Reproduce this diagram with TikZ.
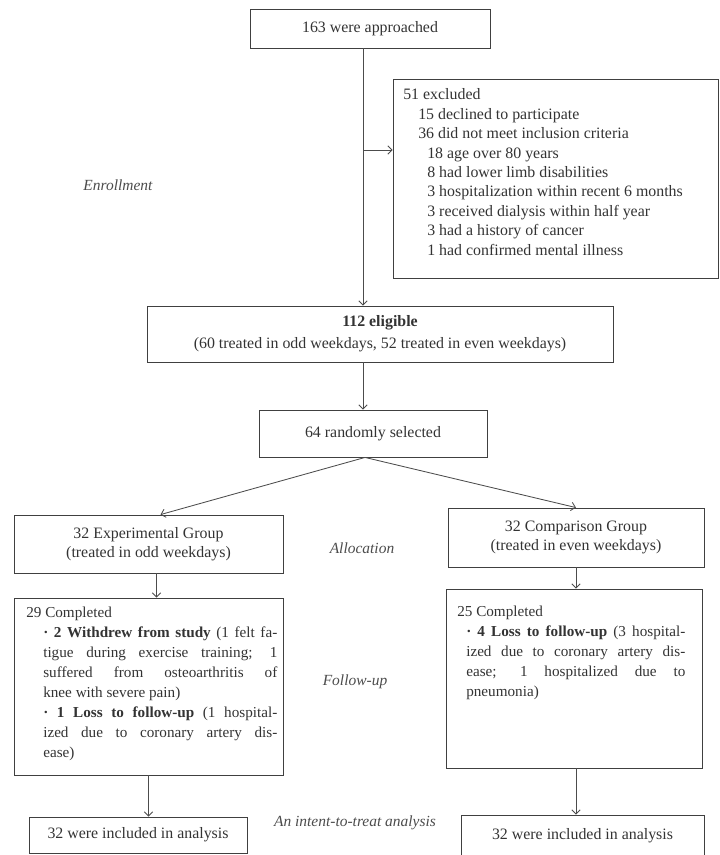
\documentclass[tikz,border=0pt]{standalone}
\usepackage{fontspec}
\setmainfont{Liberation Serif}
\usetikzlibrary{arrows.meta}
\newcommand{\jline}[2]{\makebox[#1][s]{#2}}
\begin{document}
\begin{tikzpicture}[x=0.025cm,y=-0.025cm,
  every node/.style={text=black!80},
  box/.style={draw=black!75, line width=0.6pt, inner sep=0, align=center, font=\fontsize{11.3}{13.5}\selectfont},
  txt/.style={anchor=north west, inner sep=0, align=left, font=\fontsize{10.8}{14.2}\selectfont},
  stage/.style={font=\itshape\fontsize{11}{12}\selectfont, text=black!70},
  arr/.style={draw=black!70, line width=0.6pt, -{Straight Barb[length=3pt,width=6pt]}}]
  \useasboundingbox (0,0) rectangle (720,855);
  % enrollment
  \node[box, minimum width=6cm, minimum height=0.975cm] (appr) at (370,28.5) {163 were approached};
  \node[box, minimum width=8.125cm, minimum height=4.975cm] (excl) at (555.5,178.5) {};
  \node[txt, font=\fontsize{11.3}{13.8}\selectfont] (excltxt) at (403,88.5) {51 excluded\\
    \hspace*{0.375cm}15 declined to participate\\
    \hspace*{0.375cm}36 did not meet inclusion criteria\\
    \hspace*{0.6cm}18 age over 80 years\\
    \hspace*{0.6cm}8 had lower limb disabilities\\
    \hspace*{0.6cm}3 hospitalization within recent 6 months\\
    \hspace*{0.6cm}3 received dialysis within half year\\
    \hspace*{0.6cm}3 had a history of cancer\\
    \hspace*{0.6cm}1 had confirmed mental illness};
  \node[stage] (enrol) at (118,185) {Enrollment};
  \node[box, minimum width=11.65cm, minimum height=1.4cm] (elig) at (380,334)
    {\textbf{112 eligible}\\[2pt](60 treated in odd weekdays, 52 treated in even weekdays)};
  \node[box, minimum width=5.7cm, minimum height=1.175cm] (rand) at (373,433.5) {64 randomly selected};
  \coordinate (split) at (363,150);
  \draw[arr] (split |- appr.south) -- (split |- elig.north);
  \draw[arr] (split) -- (split -| excl.west);
  \draw[arr] (split |- elig.south) -- (split |- rand.north);
  % allocation
  \node[box, minimum width=6.725cm, minimum height=1.45cm] (expg) at (148.5,544)
    {32 Experimental Group\\(treated in odd weekdays)};
  \node[box, minimum width=6.4cm, minimum height=1.475cm] (compg) at (576,537.5)
    {32 Comparison Group\\(treated in even weekdays)};
  \node[stage] (alloc) at (362,548) {Allocation};
  \draw[arr] ([xshift=-0.2cm]rand.south) -- ([xshift=0.3cm]expg.north);
  \draw[arr] ([xshift=-0.2cm]rand.south) -- (compg.north);
  % follow-up
  \node[box, minimum width=6.725cm, minimum height=4.425cm] (done1) at (148.5,686.5) {};
  \node[box, minimum width=6.4cm, minimum height=4.475cm] (done2) at (574,678.5) {};
  \node[txt] (done1txt) at (26,607) {29 Completed\\
    \hspace*{0.425cm}\jline{5.85cm}{\textbf{· 2 Withdrew from study} (1 felt fa-}\\
    \hspace*{0.425cm}\jline{5.85cm}{tigue during exercise training; 1}\\
    \hspace*{0.425cm}\jline{5.85cm}{suffered from osteoarthritis of}\\
    \hspace*{0.425cm}knee with severe pain)\\
    \hspace*{0.425cm}\jline{5.85cm}{\textbf{· 1 Loss to follow-up} (1 hospital-}\\
    \hspace*{0.425cm}\jline{5.85cm}{ized due to coronary artery dis-}\\
    \hspace*{0.425cm}ease)};
  \node[txt] (done2txt) at (457,606) {25 Completed\\
    \hspace*{0.225cm}\jline{5.475cm}{\textbf{· 4 Loss to follow-up} (3 hospital-}\\
    \hspace*{0.225cm}\jline{5.475cm}{ized due to coronary artery dis-}\\
    \hspace*{0.225cm}\jline{5.475cm}{ease; 1 hospitalized due to}\\
    \hspace*{0.225cm}pneumonia)};
  \node[stage] (follow) at (355,682) {Follow-up};
  \draw[arr] ([xshift=0.2cm]expg.south) -- ([xshift=0.2cm]expg.south |- done1.north);
  \draw[arr] (compg.south) -- (compg.south |- done2.north);
  % analysis
  \node[box, minimum width=5.45cm, minimum height=0.9cm] (anl1) at (138,835) {32 were included in analysis};
  \node[box, minimum width=6.075cm, minimum height=1.05cm] (anl2) at (582.5,836) {32 were included in analysis};
  \node[stage] (itt) at (355,823) {An intent-to-treat analysis};
  \draw[arr] (done1.south) -- (done1.south |- anl1.north);
  \draw[arr] (compg.south |- done2.south) -- (compg.south |- anl2.north);
\end{tikzpicture}
\end{document}
